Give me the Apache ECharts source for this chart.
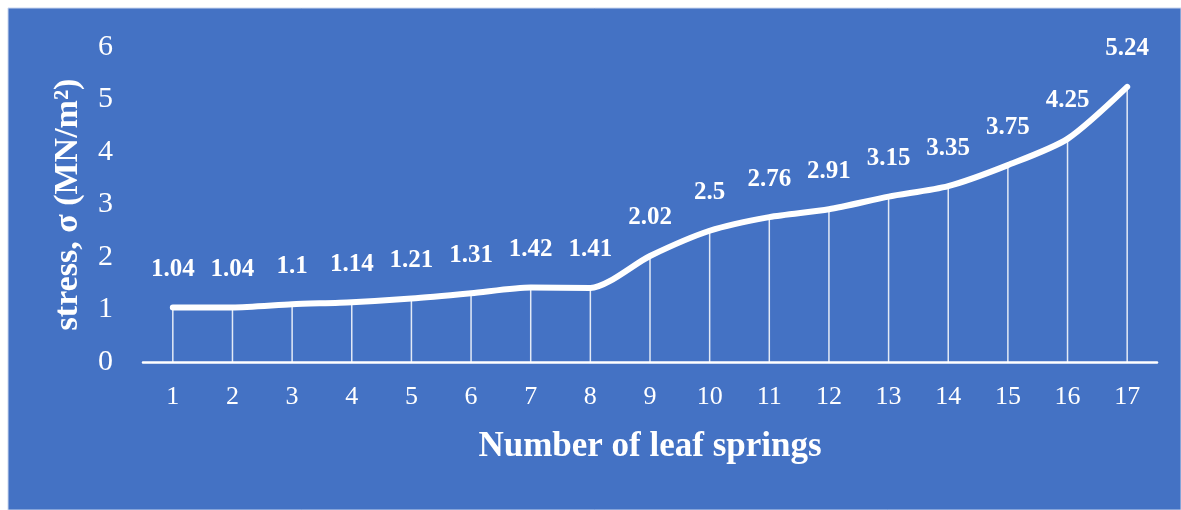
<!DOCTYPE html>
<html>
<head>
<meta charset="utf-8">
<style>
  html, body { margin: 0; padding: 0; background: #ffffff; }
  #chart { width: 1181px; height: 510px; }
</style>
<script src="https://cdn.jsdelivr.net/npm/echarts@6/dist/echarts.min.js"></script>
</head>
<body>
<div id="chart"></div>
<script>
// Number of leaf springs vs. stress
const springCounts = ['1','2','3','4','5','6','7','8','9','10','11','12','13','14','15','16','17'];
const stressValues = [1.04, 1.04, 1.1, 1.14, 1.21, 1.31, 1.42, 1.41, 2.02, 2.5, 2.76, 2.91, 3.15, 3.35, 3.75, 4.25, 5.24];

const SERIF = '"Liberation Serif", "DejaVu Serif", serif';
const BLUE = '#4472C4';

const chart = echarts.init(document.getElementById('chart'), null, { renderer: 'canvas' });

chart.setOption({
  backgroundColor: '#ffffff',
  animation: false,
  graphic: [{
    type: 'rect',
    z: -10,
    shape: { x: 8, y: 8, width: 1173, height: 502 },
    style: { fill: BLUE, stroke: '#c9d6ee', lineWidth: 1 }
  }],
  grid: { left: 143, right: 24, top: 47, bottom: 148, containLabel: false },
  xAxis: {
    type: 'category',
    data: springCounts,
    boundaryGap: true,
    axisLine: { show: true, lineStyle: { color: '#ffffff', width: 2.5 } },
    axisTick: { show: false },
    axisLabel: { color: '#ffffff', fontFamily: SERIF, fontSize: 26, margin: 22 },
    name: 'Number of leaf springs',
    nameLocation: 'middle',
    nameGap: 67,
    nameTextStyle: { color: '#ffffff', fontFamily: SERIF, fontSize: 35, fontWeight: 'bold' }
  },
  yAxis: {
    type: 'value',
    min: 0,
    max: 6,
    interval: 1,
    axisLine: { show: false },
    axisTick: { show: false },
    splitLine: { show: false },
    axisLabel: { color: '#ffffff', fontFamily: SERIF, fontSize: 30, margin: 30 },
    name: 'stress, σ (MN/m²)',
    nameLocation: 'middle',
    nameGap: 58,
    nameRotate: 90,
    nameTextStyle: { color: '#ffffff', fontFamily: SERIF, fontSize: 34, fontWeight: 'bold' }
  },
  series: [
    {
      // thin drop lines from each point down to the axis
      type: 'bar',
      data: stressValues,
      barWidth: 1.5,
      itemStyle: { color: 'rgba(255,255,255,0.85)' },
      silent: true,
      z: 1
    },
    {
      type: 'line',
      data: stressValues,
      smooth: 0.25,
      symbol: 'circle',
      symbolSize: 1,
      showSymbol: true,
      itemStyle: { color: '#ffffff' },
      lineStyle: { color: '#ffffff', width: 6, cap: 'round', join: 'round' },
      label: {
        show: true,
        position: 'top',
        distance: 25,
        color: '#ffffff',
        fontFamily: SERIF,
        fontSize: 25,
        fontWeight: 'bold'
      },
      z: 3
    }
  ]
});
</script>
</body>
</html>
